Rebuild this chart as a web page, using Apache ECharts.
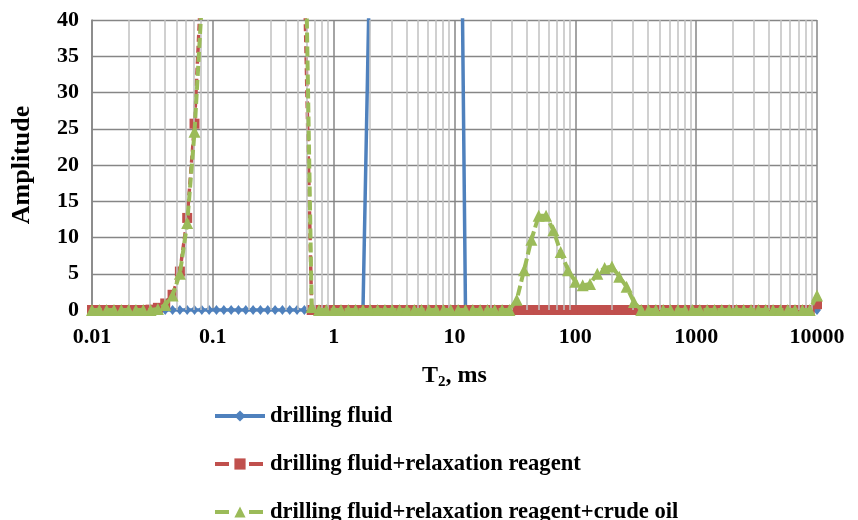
<!DOCTYPE html>
<html>
<head>
<meta charset="utf-8">
<script src="https://cdn.jsdelivr.net/npm/echarts@6/dist/echarts.min.js"></script>
<style>html,body{margin:0;padding:0;background:#fff}#c{width:858px;height:520px}</style>
</head>
<body>
<div id="c"></div>
<script>
// T2 grid (ms), 100 log-spaced points 0.01 .. 10000
var t2 = [
0.01,0.0115,0.01322,0.0152,0.01748,0.02009,0.0231,0.02656,0.03054,0.03511,0.04037,0.04642,0.05337,0.06136,0.07055,0.08111,0.09326,0.1072,0.1233,0.1418,0.163,0.1874,0.2154,0.2477,0.2848,0.3275,0.3765,0.4329,0.4977,0.5722,0.6579,0.7565,0.8697,
1,1.15,1.322,1.52,1.748,2.009,2.31,2.656,3.054,3.511,4.037,4.642,5.337,6.136,7.055,8.111,9.326,10.72,12.33,14.18,16.3,18.74,21.54,24.77,28.48,32.75,37.65,43.29,49.77,57.22,65.79,75.65,86.98,
100,115,132.2,152,174.8,200.9,231,265.6,305.4,351.1,403.7,464.2,533.7,613.6,705.5,811.1,932.6,1072,1233,1418,1630,1874,2154,2477,2848,3275,3765,4329,4977,5722,6579,7565,8698,
10000];

var drillingFluid = [
0,0,0,0,0,0,0,0,0,0,0,0,0,0,0,0,0,0,0,0,0,0,0,0,0,0,0,0,0,0,0,0,0,
0,0,0,0,0,52,110,170,220,250,260,250,225,190,155,125,120,100,0,0,0,0,0,0,0,0,0,0,0,0,0,0,0,
0,0,0,0,0,0,0,0,0,0,0,0,0,0,0,0,0,0,0,0,0,0,0,0,0,0,0,0,0,0,0,0,0,
0];

var fluidReagent = [
0,0,0,0,0,0,0,0,0.05,0.3,0.9,2.1,5.3,12.7,25.7,47,65,85,100,110,112,108,100,90,80,70,62,55,50,46,0,0,0,
0,0,0,0,0,0,0,0,0,0,0,0,0,0,0,0,0,0,0,0,0,0,0,0,0,0,0,0,0,0,0,0,0,
0,0,0,0,0,0,0,0,0,0,0,0,0,0,0,0,0,0,0,0,0,0,0,0,0,0,0,0,0,0,0,0,0,
0.8];

var fluidReagentOil = [
0,0,0,0,0,0,0,0,0,0.15,0.7,2.0,5.0,12.0,24.6,42.5,60,80,95,105,108,105,98,90,82,75,70,66,63,60,0.4,0,0,
0,0,0,0,0,0,0,0,0,0,0,0,0,0,0,0,0,0,0,0,0,0,0,0,0,1.4,5.5,9.7,13.0,13.0,11.0,8.0,5.5,
3.9,3.4,3.6,5.0,5.8,6.0,4.6,3.2,1.1,0,0,0,0,0,0,0,0,0,0,0,0,0,0,0,0,0,0,0,0,0,0,0,0,
2.0];

var seriesNames = ['drilling fluid','drilling fluid+relaxation reagent','drilling fluid+relaxation reagent+crude oil'];
var xTickLabels = ['0.01','0.1','1','10','100','1000','10000'];
var decades = [0.01,0.1,1,10,100,1000];

function pairs(v){ return t2.map(function(t,i){ return [t, v[i]]; }); }
var minorLines = [];
decades.forEach(function(d){ for (var k=2;k<=9;k++){ minorLines.push({xAxis: Number((d*k).toPrecision(3))}); } });

var FONT = "'Liberation Serif','Times New Roman',serif";
var chart = echarts.init(document.getElementById('c'), null, {renderer:'canvas'});
chart.setOption({
  animation:false,
  backgroundColor:'#fff',
  grid:{left:92, right:41, top:20, bottom:210, containLabel:false},
  legend:{
    orient:'vertical', left:213, top:404, height:160, padding:0,
    itemWidth:50, itemHeight:14, itemGap:24,
    data:[
      {name:seriesNames[0], lineStyle:{width:4}},
      {name:seriesNames[1], lineStyle:{type:[14,20], width:4}},
      {name:seriesNames[2], lineStyle:{type:[14,20], width:4}}
    ],
    textStyle:{fontFamily:FONT, fontSize:22.6, fontWeight:'bold', color:'#000', lineHeight:24}
  },
  xAxis:{
    type:'log', logBase:10, min:0.01, max:10000, interval:1,
    name:'{a|T}{b|2}{a|, ms}', nameLocation:'middle', nameGap:52,
    nameTextStyle:{rich:{
      a:{fontFamily:FONT, fontSize:24, fontWeight:'bold', color:'#000', lineHeight:28},
      b:{fontFamily:FONT, fontSize:15, fontWeight:'bold', color:'#000', lineHeight:28, verticalAlign:'bottom', padding:[12,0,0,0]}
    }},
    axisLine:{show:true, lineStyle:{color:'#868686', width:1.5}},
    axisTick:{show:false},
    axisLabel:{fontFamily:FONT, fontSize:22, fontWeight:'bold', color:'#000', margin:16,
      formatter:function(v){ var s=String(Number(v.toPrecision(3))); return xTickLabels.indexOf(s)>=0 ? s : ''; }},
    splitLine:{show:true, lineStyle:{color:'#868686', width:1.5}},
    minorTick:{show:false}, minorSplitLine:{show:false}
  },
  yAxis:{
    type:'value', min:0, max:40, interval:5,
    name:'Amplitude', nameLocation:'middle', nameGap:57, nameRotate:90,
    nameTextStyle:{fontFamily:FONT, fontSize:26, fontWeight:'bold', color:'#000'},
    axisLine:{show:true, lineStyle:{color:'#868686', width:1.5}},
    axisTick:{show:false},
    axisLabel:{fontFamily:FONT, fontSize:22, fontWeight:'bold', color:'#000', margin:13},
    splitLine:{show:true, lineStyle:{color:'#868686', width:1.3}}
  },
  series:[
    {type:'line', name:'_minor', data:[], z:1, silent:true,
     markLine:{silent:true, symbol:['none','none'], label:{show:false}, animation:false,
       lineStyle:{color:'#C0C0C0', width:1.5, type:'solid'}, emphasis:{disabled:true}, data:minorLines}},
    {type:'line', name:seriesNames[0], data:pairs(drillingFluid), z:3,
     symbol:'diamond', symbolSize:[8,10], showAllSymbol:true,
     itemStyle:{color:'#4F81BD'}, lineStyle:{color:'#4F81BD', width:3.5}},
    {type:'line', name:seriesNames[1], data:pairs(fluidReagent), z:4,
     symbol:'rect', symbolSize:10, showAllSymbol:true,
     itemStyle:{color:'#C0504D'}, lineStyle:{color:'#C0504D', width:3.5, type:[7,4]}},
    {type:'line', name:seriesNames[2], data:pairs(fluidReagentOil), z:5,
     symbol:'triangle', symbolSize:12, showAllSymbol:true,
     itemStyle:{color:'#9BBB59'}, lineStyle:{color:'#9BBB59', width:4, type:[10,4]}}
  ]
});
</script>
</body>
</html>
